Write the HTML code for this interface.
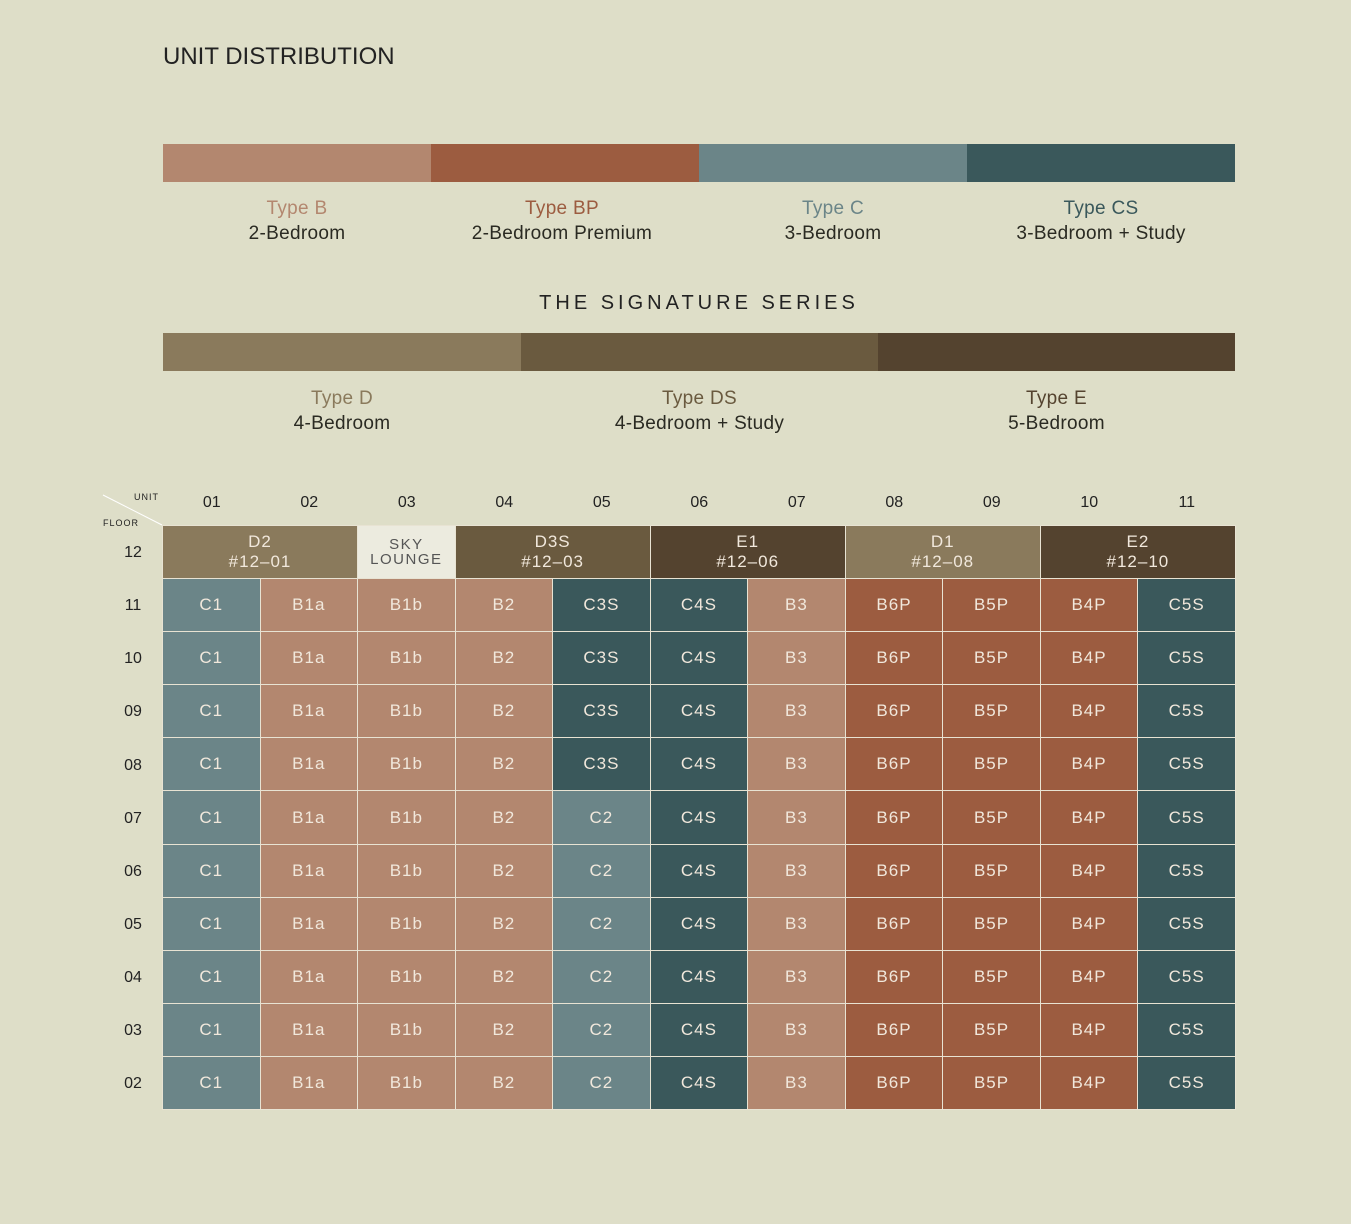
<!DOCTYPE html>
<html><head><meta charset="utf-8"><style>
body{margin:0;width:1351px;height:1224px;background:#dedec8;font-family:"Liberation Sans",sans-serif;position:relative;overflow:hidden}
.a{position:absolute}
.title{left:163px;top:43px;font-size:24px;color:#222;letter-spacing:0}
.bar{height:38px;top:144px}
.lab{text-align:center;font-size:19px;line-height:25px;color:#2a2a22;letter-spacing:0.3px}
.sig{left:163px;width:1072px;top:292px;text-align:center;font-size:20px;letter-spacing:4px;color:#222}
table{position:absolute;left:162px;top:525px;width:1074px;border-collapse:collapse;table-layout:fixed}
td{border:1.5px solid #e8e3d3;height:52.1px;text-align:center;color:#f1e8dc;font-size:17px;letter-spacing:1px;padding:0}
.C{background:#6b8588}.S{background:#3a585b}.B{background:#b3876f}.P{background:#9c5c40}
.D{background:#8a7a5c;line-height:20px}.X{background:#6a5a3f;line-height:20px}.E{background:#54432f;line-height:20px}
.L{background:#ecebdf;color:#555;font-size:15px;line-height:15px;letter-spacing:1.5px}
.col{top:494px;width:97.5px;text-align:center;font-size:16px;color:#222}
.fl{left:110px;width:46px;text-align:center;font-size:16px;color:#222}
</style></head><body>
<div class="a title">UNIT DISTRIBUTION</div>
<div class="a bar" style="left:163px;width:268px;background:#b3876f"></div>
<div class="a bar" style="left:431px;width:268px;background:#9c5c40"></div>
<div class="a bar" style="left:699px;width:268px;background:#6b8588"></div>
<div class="a bar" style="left:967px;width:268px;background:#3a585b"></div>
<div class="a lab" style="left:163px;width:268px;top:196px"><span style="color:#b3876f">Type B</span><br>2-Bedroom</div>
<div class="a lab" style="left:431px;width:262px;top:196px"><span style="color:#9c5c40">Type BP</span><br>2-Bedroom Premium</div>
<div class="a lab" style="left:699px;width:268px;top:196px"><span style="color:#6b8588">Type C</span><br>3-Bedroom</div>
<div class="a lab" style="left:967px;width:268px;top:196px"><span style="color:#3a585b">Type CS</span><br>3-Bedroom + Study</div>
<div class="a sig">THE SIGNATURE SERIES</div>
<div class="a" style="left:163px;top:333px;width:358px;height:38px;background:#8a7a5c"></div>
<div class="a" style="left:521px;top:333px;width:357px;height:38px;background:#6a5a3f"></div>
<div class="a" style="left:878px;top:333px;width:357px;height:38px;background:#54432f"></div>
<div class="a lab" style="left:163px;width:358px;top:386px"><span style="color:#8a7a5c">Type D</span><br>4-Bedroom</div>
<div class="a lab" style="left:521px;width:357px;top:386px"><span style="color:#6a5a3f">Type DS</span><br>4-Bedroom + Study</div>
<div class="a lab" style="left:878px;width:357px;top:386px"><span style="color:#54432f">Type E</span><br>5-Bedroom</div>
<svg class="a" style="left:100px;top:492px" width="65" height="36"><line x1="3" y1="3" x2="62" y2="33" stroke="#fff" stroke-width="1"/></svg>
<div class="a" style="left:134px;top:492px;font-size:9px;color:#222;letter-spacing:1px">UNIT</div>
<div class="a" style="left:103px;top:518px;font-size:9px;color:#222;letter-spacing:1px">FLOOR</div>
<div class="a col" style="left:163px">01</div><div class="a col" style="left:260.5px">02</div><div class="a col" style="left:358px">03</div><div class="a col" style="left:455.5px">04</div><div class="a col" style="left:553px">05</div><div class="a col" style="left:650.5px">06</div><div class="a col" style="left:748px">07</div><div class="a col" style="left:845.5px">08</div><div class="a col" style="left:943px">09</div><div class="a col" style="left:1040.5px">10</div><div class="a col" style="left:1138px">11</div>
<div class="a fl" style="top:544px">12</div><div class="a fl" style="top:597px">11</div><div class="a fl" style="top:650px">10</div><div class="a fl" style="top:703px">09</div><div class="a fl" style="top:757px">08</div><div class="a fl" style="top:810px">07</div><div class="a fl" style="top:863px">06</div><div class="a fl" style="top:916px">05</div><div class="a fl" style="top:969px">04</div><div class="a fl" style="top:1022px">03</div><div class="a fl" style="top:1075px">02</div>
<table>
<tr><td colspan="2" class="D">D2<br>#12–01</td><td class="L">SKY<br>LOUNGE</td><td colspan="2" class="X">D3S<br>#12–03</td><td colspan="2" class="E">E1<br>#12–06</td><td colspan="2" class="D">D1<br>#12–08</td><td colspan="2" class="E">E2<br>#12–10</td></tr>
<tr><td class="C">C1</td><td class="B">B1a</td><td class="B">B1b</td><td class="B">B2</td><td class="S">C3S</td><td class="S">C4S</td><td class="B">B3</td><td class="P">B6P</td><td class="P">B5P</td><td class="P">B4P</td><td class="S">C5S</td></tr>
<tr><td class="C">C1</td><td class="B">B1a</td><td class="B">B1b</td><td class="B">B2</td><td class="S">C3S</td><td class="S">C4S</td><td class="B">B3</td><td class="P">B6P</td><td class="P">B5P</td><td class="P">B4P</td><td class="S">C5S</td></tr>
<tr><td class="C">C1</td><td class="B">B1a</td><td class="B">B1b</td><td class="B">B2</td><td class="S">C3S</td><td class="S">C4S</td><td class="B">B3</td><td class="P">B6P</td><td class="P">B5P</td><td class="P">B4P</td><td class="S">C5S</td></tr>
<tr><td class="C">C1</td><td class="B">B1a</td><td class="B">B1b</td><td class="B">B2</td><td class="S">C3S</td><td class="S">C4S</td><td class="B">B3</td><td class="P">B6P</td><td class="P">B5P</td><td class="P">B4P</td><td class="S">C5S</td></tr>
<tr><td class="C">C1</td><td class="B">B1a</td><td class="B">B1b</td><td class="B">B2</td><td class="C">C2</td><td class="S">C4S</td><td class="B">B3</td><td class="P">B6P</td><td class="P">B5P</td><td class="P">B4P</td><td class="S">C5S</td></tr>
<tr><td class="C">C1</td><td class="B">B1a</td><td class="B">B1b</td><td class="B">B2</td><td class="C">C2</td><td class="S">C4S</td><td class="B">B3</td><td class="P">B6P</td><td class="P">B5P</td><td class="P">B4P</td><td class="S">C5S</td></tr>
<tr><td class="C">C1</td><td class="B">B1a</td><td class="B">B1b</td><td class="B">B2</td><td class="C">C2</td><td class="S">C4S</td><td class="B">B3</td><td class="P">B6P</td><td class="P">B5P</td><td class="P">B4P</td><td class="S">C5S</td></tr>
<tr><td class="C">C1</td><td class="B">B1a</td><td class="B">B1b</td><td class="B">B2</td><td class="C">C2</td><td class="S">C4S</td><td class="B">B3</td><td class="P">B6P</td><td class="P">B5P</td><td class="P">B4P</td><td class="S">C5S</td></tr>
<tr><td class="C">C1</td><td class="B">B1a</td><td class="B">B1b</td><td class="B">B2</td><td class="C">C2</td><td class="S">C4S</td><td class="B">B3</td><td class="P">B6P</td><td class="P">B5P</td><td class="P">B4P</td><td class="S">C5S</td></tr>
<tr><td class="C">C1</td><td class="B">B1a</td><td class="B">B1b</td><td class="B">B2</td><td class="C">C2</td><td class="S">C4S</td><td class="B">B3</td><td class="P">B6P</td><td class="P">B5P</td><td class="P">B4P</td><td class="S">C5S</td></tr>
</table>
</body></html>
